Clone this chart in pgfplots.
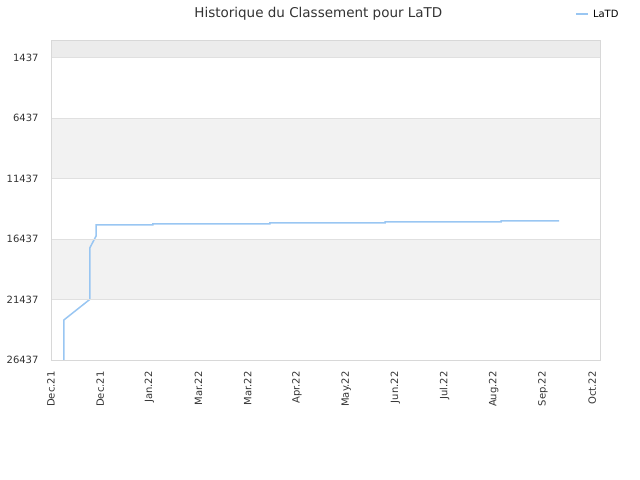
\documentclass[border=0pt]{standalone}
\usepackage{fontspec}
\setmainfont{DejaVu Sans}
\usepackage{pgfplots}
\pgfplotsset{compat=1.18}

\definecolor{rankline}{HTML}{99C6F2}
\definecolor{bandgray}{HTML}{F2F2F2}
\definecolor{topgray}{HTML}{ECECEC}
\definecolor{gridgray}{HTML}{E0E0E0}
\definecolor{framegray}{HTML}{D8D8D8}
\definecolor{txt}{HTML}{333333}

\begin{document}
\begin{tikzpicture}
  \useasboundingbox (0,0) rectangle (640bp,480bp);
  \begin{axis}[
    at={(51bp,120bp)}, anchor=south west,
    width=549bp, height=320bp, scale only axis,
    y dir=reverse,
    ymin=1, ymax=26437,
    xmin=0, xmax=11.16,
    ytick={1437,6437,11437,16437,21437,26437},
    scaled y ticks=false,
    yticklabel style={/pgf/number format/fixed, /pgf/number format/1000 sep={}},
    xtick={0,1,2,3,4,5,6,7,8,9,10,11},
    xticklabels={Dec.21,Dec.21,Jan.22,Mar.22,Mar.22,Apr.22,May.22,Jun.22,Jul.22,Aug.22,Sep.22,Oct.22},
    /pgf/number format/assume math mode=true,
    ticklabel style={font=\fontsize{10bp}{11bp}\selectfont, text=txt},
    yticklabel style={xshift=-9bp},
    xticklabel style={rotate=90, anchor=east, xshift=-8bp},
    major tick length=0pt,
    ymajorgrids=true, xmajorgrids=false,
    grid style={gridgray, line width=0.6bp},
    axis line style={framegray, line width=0.8bp},
    axis on top,
    title={Historique du Classement pour LaTD},
    title style={font=\fontsize{13.5bp}{15bp}\selectfont, text=txt, at={(0.487,1)}, anchor=south, yshift=10bp},
    legend style={at={(0.955,1.06)}, anchor=south west, draw=none, fill=none,
      font=\fontsize{10bp}{11bp}\selectfont, text=black, inner sep=0pt,
      nodes={inner xsep=4bp}},
    legend image code/.code={\draw[#1] (0bp,0bp) -- (12bp,0bp);},
  ]
  \fill[topgray] (axis cs:-1,1) rectangle (axis cs:13,1437);
  \fill[bandgray] (axis cs:-1,6437) rectangle (axis cs:13,11437);
  \fill[bandgray] (axis cs:-1,16437) rectangle (axis cs:13,21437);

  \addplot[rankline, line width=1.5bp] coordinates {
    (0.26,26437) (0.26,23135) (0.79,21427) (0.79,17170)
    (0.915,16205) (0.915,15272) (2.07,15272) (2.07,15190)
    (4.45,15190) (4.45,15107) (6.79,15107) (6.79,15025)
    (9.15,15025) (9.15,14942) (10.33,14942)
  };
  \addlegendentry{LaTD}
  \end{axis}
\end{tikzpicture}
\end{document}
